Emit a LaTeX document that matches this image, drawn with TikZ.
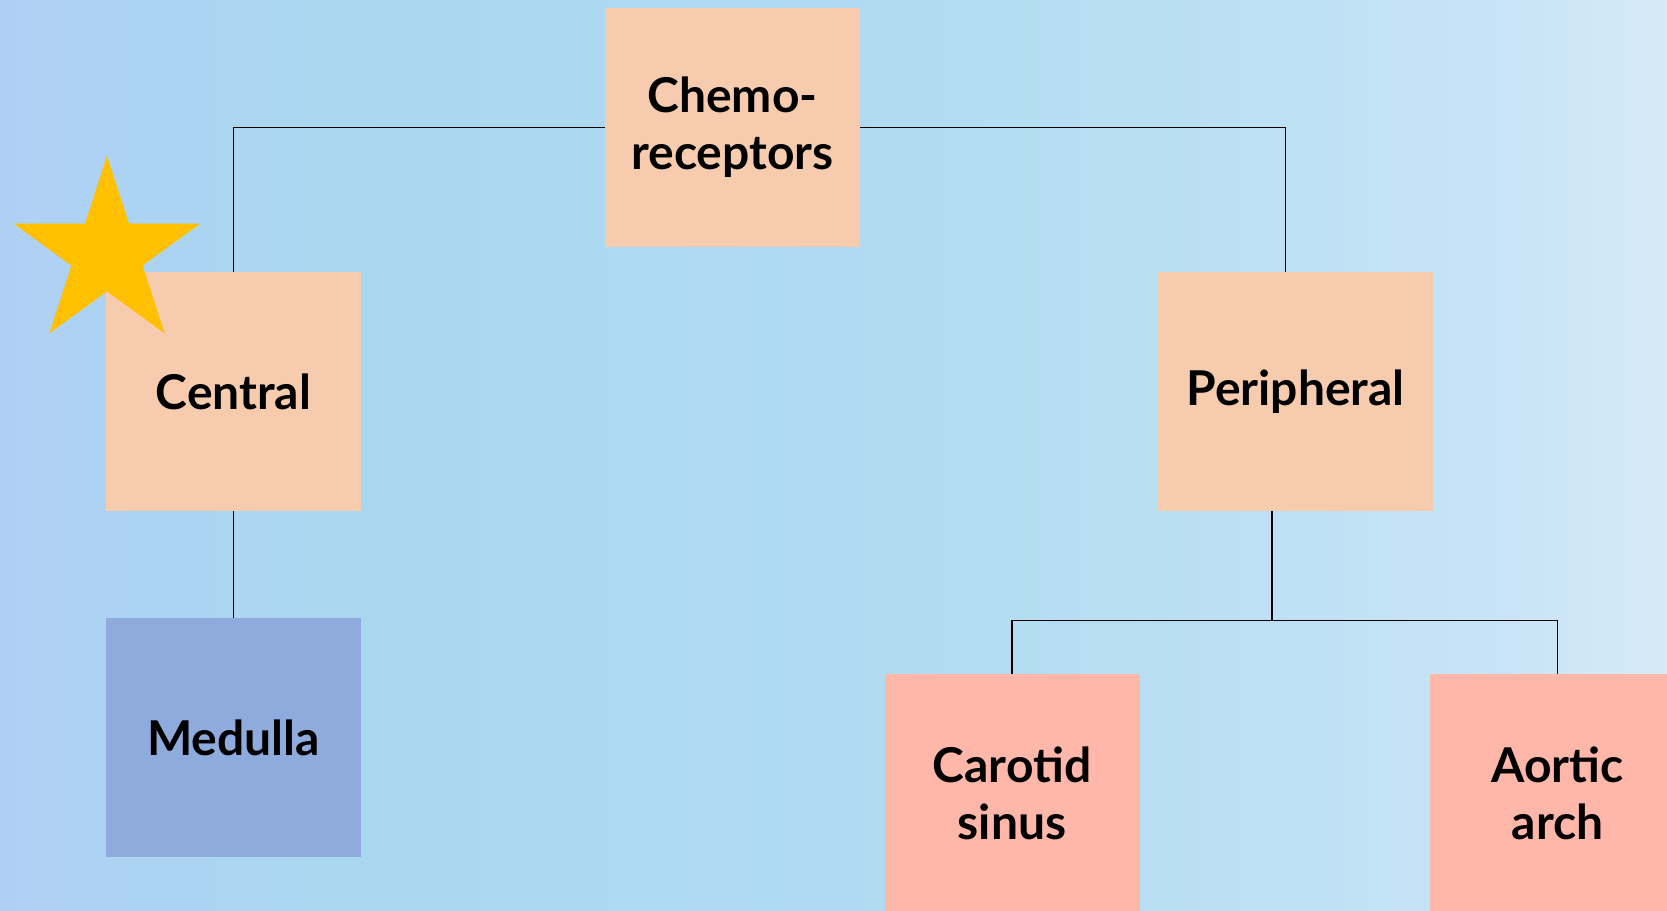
\documentclass[tikz,border=0pt]{standalone}
\usepackage{fontspec}
\setmainfont{Lato}
\usetikzlibrary{shapes.geometric,positioning,calc}
\definecolor{peach}{RGB}{247,203,173}
\definecolor{medblue}{RGB}{143,170,220}
\definecolor{salmon}{RGB}{255,183,170}
\definecolor{gold}{RGB}{255,192,0}
\pgfdeclarehorizontalshading{skyfade}{100bp}{
    rgb(0bp)=(0.686,0.816,0.961);
    rgb(25bp)=(0.686,0.816,0.961);
    rgb(35bp)=(0.667,0.843,0.941);
    rgb(50bp)=(0.686,0.855,0.945);
    rgb(62.5bp)=(0.737,0.878,0.957);
    rgb(70bp)=(0.784,0.894,0.969);
    rgb(75bp)=(0.839,0.918,0.969);
    rgb(100bp)=(0.839,0.918,0.969)}

\begin{document}
\begin{tikzpicture}[x=1pt, y=-1pt,
    box/.style={fill=#1, minimum width=255pt, minimum height=239pt, inner sep=0pt, align=center,
        font=\fontsize{48}{57}\selectfont\bfseries},
    link/.style={draw=black, line width=1.3pt}]
    % Hintergrund und Rahmen
    \useasboundingbox (0,0) rectangle (1667,910);
    \shade[shading=skyfade] (0,0) rectangle (1667,910);

    \node[box=peach] (chemo) at (732.5,127.5) {Chemo-\\receptors};
    \node[box=peach] (central) at (233.5,391.5) {Central};
    \node[box=peach, minimum width=275pt] (periph) at (1295.5,391.5) {Peripheral};
    \node[box=medblue] (medulla) at (233.5,737.5) {Medulla};
    \node[box=salmon] (carotid) at (1012,793.5) {Carotid\\sinus};
    \node[box=salmon] (aortic) at (1557.5,793.5) {Aortic\\arch};

    \node[star, star points=5, star point ratio=2.618, fill=gold, minimum size=196pt, inner sep=0pt] (mark) at (107,254) {};

    \draw[link] (chemo.west) -| (central.north);
    \draw[link] (chemo.east) -| ([xshift=-10pt]periph.north);
    \draw[link] (central.south) -- (medulla.north);
    \draw[link] ([xshift=-23.5pt]periph.south) -- ++(0,109) coordinate (split);
    \draw[link] (split) -- (split -| carotid.north) -- (carotid.north);
    \draw[link] (split) -- (split -| aortic.north) -- (aortic.north);
\end{tikzpicture}
\end{document}
